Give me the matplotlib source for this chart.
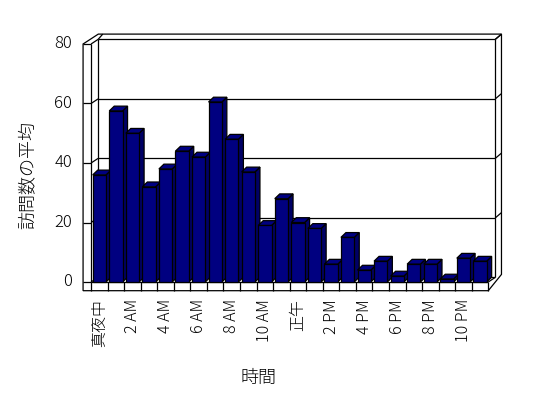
import matplotlib
matplotlib.use('Agg')
import matplotlib.pyplot as plt
from matplotlib.patches import Polygon

# ---- data ----
hours = list(range(24))
tick_positions = [0, 2, 4, 6, 8, 10, 12, 14, 16, 18, 20, 22]
tick_labels = ['真夜中', '2 AM', '4 AM', '6 AM', '8 AM', '10 AM', '正午',
               '2 PM', '4 PM', '6 PM', '8 PM', '10 PM']
visits = [36, 57.5, 50, 32, 38, 44, 42, 60.5, 48, 37, 19, 28,
          20, 18, 6, 15, 4, 7, 2, 6, 6, 1, 8, 7]
y_ticks = [0, 20, 40, 60, 80]
y_label = '訪問数の平均'
x_label = '時間'

FONT = ['Noto Sans CJK JP', 'DejaVu Sans']
plt.rcParams['font.family'] = FONT
FW = 'light'

# ---- geometry (pixel scale of the front plane) ----
W, H = 548, 398
X0, PX = 99.35, 16.55      # px of category 0 centre, px per category
Y0, PY = 282.0, 2.975      # px (from top) of value 0, px per unit


def P(x, y):
    """pixel (from top-left) -> data coordinates"""
    return ((x - X0) / PX, (Y0 - y) / PY)


fig = plt.figure(figsize=(W / 100, H / 100), dpi=100)
ax = fig.add_axes([0, 0, 1, 1])
ax.set_xlim(P(0, 0)[0], P(W, 0)[0])
ax.set_ylim(P(0, H)[1], P(0, 0)[1])
ax.axis('off')

LW = 0.9
K = 'black'

# depth vectors in data units
Dx, Dy = 7 / PX, 4.6 / PY          # front plane -> back wall
Tx, Ty = 6.2 / PX, 5.3 / PY        # wall thickness
Sx = 8 / PX                        # side wall thickness
Fy = 8.7 / PY                      # floor thickness
xl, xr = -0.5, len(hours) - 0.5
ymax = y_ticks[-1]


def line(xs, ys):
    ax.plot(xs, ys, color=K, lw=LW, solid_capstyle='butt', zorder=2)


# outer silhouette
sil = [(xl - Sx, ymax), (xl + Dx + (Tx - 1 / PX) - Sx + 3 / PX, ymax + Dy + Ty),
       (xr + Dx + Tx, ymax + Dy + Ty), (xr + Dx + Tx, Dy + 3 / PY),
       (xr, -Fy), (xl - Sx, -Fy)]
ax.add_patch(Polygon(sil, closed=True, facecolor='white', edgecolor=K, lw=LW, zorder=1))

# walls: inner edges
line([xl, xl], [0, ymax])
line([xl + Dx, xl + Dx], [Dy, ymax + Dy])
line([xr + Dx, xr + Dx], [Dy, ymax + Dy])
line([xl + Dx, xl + Dx + Tx - 1.5 / PX], [ymax + Dy, ymax + Dy + Ty])
line([xr + Dx, xr + Dx + Tx], [ymax + Dy, ymax + Dy + Ty])

# gridlines on side wall & back wall, ticks
for v in y_ticks:
    line([xl - Sx, xl], [v, v])
    line([xl, xl + Dx], [v, v + Dy])
    line([xl + Dx, xr + Dx], [v + Dy, v + Dy])
    if v > 0:
        line([xr + Dx, xr + Dx + Tx], [v + Dy, v + Dy + Ty])
    ax.text(P(72, 0)[0], v, str(v), ha='right', va='center',
            fontsize=12, fontweight=FW, color=K)

# floor
line([xl, xr], [0, 0])
line([xr, xr + Dx], [0, Dy])
for b in range(len(hours) + 1):
    xb = b - 0.5
    line([xb, xb], [-Fy, 0])

# bars
bw = 13.3 / PX
bdx, bdy = 5 / PX, 4.8 / PY
FRONT, TOP, SIDE = '#000080', '#000080', '#000066'
for i, v in zip(hours, visits):
    l, r = i - bw / 2, i + bw / 2
    ax.add_patch(Polygon([(r, 0), (r, v), (r + bdx, v + bdy), (r + bdx, bdy)],
                         closed=True, facecolor=SIDE, edgecolor=K, lw=LW, zorder=3))
    ax.add_patch(Polygon([(l, v), (r, v), (r + bdx, v + bdy), (l + bdx, v + bdy)],
                         closed=True, facecolor=TOP, edgecolor=K, lw=LW, zorder=3))
    ax.bar([i], [v], width=bw, bottom=0, color=FRONT, edgecolor=K,
           linewidth=LW, zorder=3)

# x tick labels
for pos, lab in zip(tick_positions, tick_labels):
    ax.text(pos, P(0, 299)[1], lab, rotation=90, ha='center', va='top',
            fontsize=11.5, fontweight=FW, color=K)

# axis titles
ax.text(*P(28, 175), y_label, rotation=90, ha='center', va='center',
        fontsize=13, fontweight=FW, color=K)
ax.text(*P(258, 378), x_label, ha='center', va='center', fontsize=13,
        fontweight=FW, color=K)

fig.savefig('out.png', dpi=100, facecolor='white')
